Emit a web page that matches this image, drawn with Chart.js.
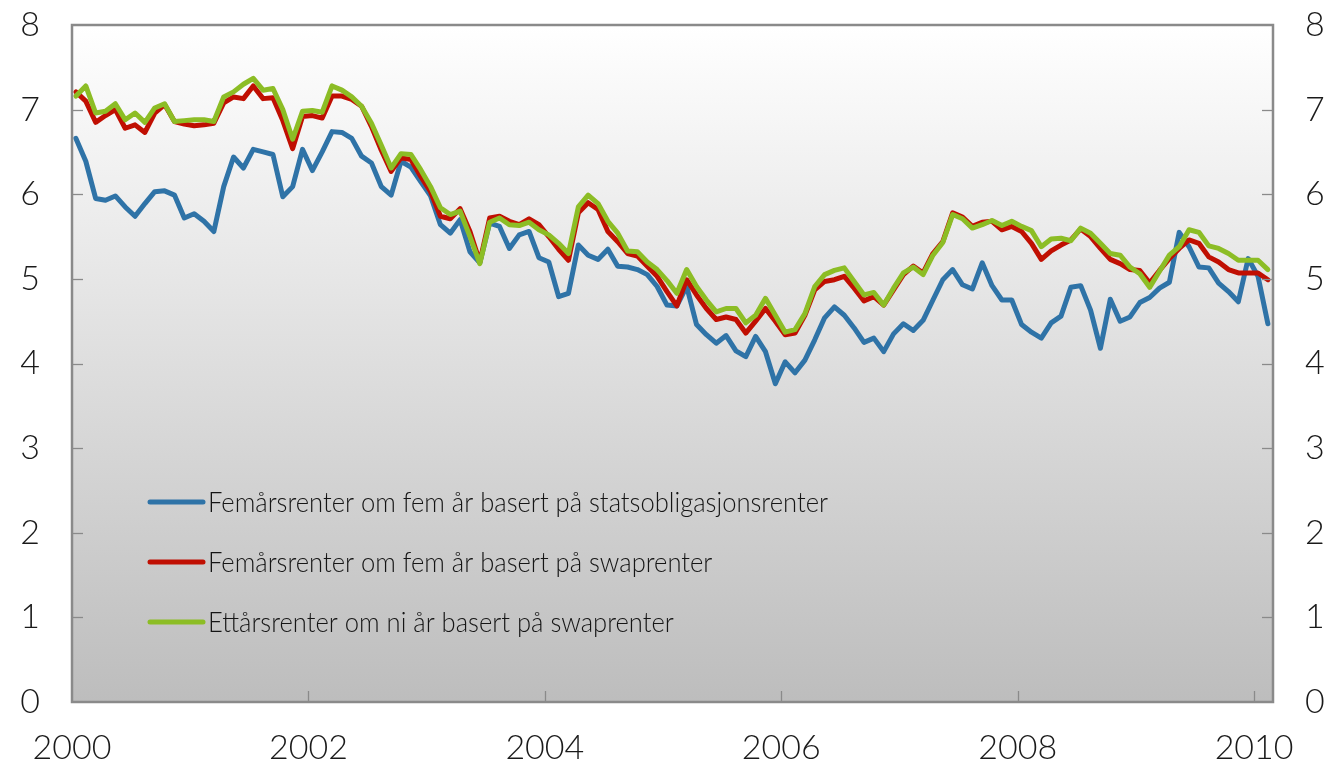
<!DOCTYPE html>
<html><head><meta charset="utf-8">
<script src="https://cdn.jsdelivr.net/npm/chart.js@4.4.1/dist/chart.umd.min.js"></script>
<style>html,body{margin:0;padding:0;background:#fff;}#wrap{width:1337px;height:772px;position:relative}</style>
</head><body><div id="wrap"><canvas id="c" width="1337" height="772"></canvas></div>
<script>
const yearTicks = [2000, 2002, 2004, 2006, 2008, 2010];
const yTicks = [0, 1, 2, 3, 4, 5, 6, 7, 8];
const seriesNames = [
  "Femårsrenter om fem år basert på statsobligasjonsrenter",
  "Femårsrenter om fem år basert på swaprenter",
  "Ettårsrenter om ni år basert på swaprenter"
];
// Monthly observations, Jan 2000 - Feb 2010
const blue = [
  6.66, 6.39, 5.95, 5.93, 5.98, 5.85, 5.74, 5.89, 6.03, 6.04,
  5.99, 5.72, 5.77, 5.68, 5.56, 6.09, 6.44, 6.31, 6.53, 6.50,
  6.47, 5.97, 6.09, 6.53, 6.28, 6.50, 6.74, 6.73, 6.66, 6.45,
  6.37, 6.09, 5.99, 6.39, 6.32, 6.15, 5.98, 5.64, 5.54, 5.70,
  5.32, 5.19, 5.66, 5.62, 5.36, 5.52, 5.56, 5.25, 5.20, 4.79,
  4.83, 5.40, 5.28, 5.23, 5.35, 5.15, 5.14, 5.11, 5.05, 4.91,
  4.69, 4.68, 4.91, 4.46, 4.34, 4.24, 4.33, 4.15, 4.08, 4.32,
  4.14, 3.76, 4.02, 3.89, 4.04, 4.28, 4.54, 4.67, 4.57, 4.42,
  4.25, 4.30, 4.14, 4.35, 4.47, 4.39, 4.51, 4.75, 4.99, 5.11,
  4.93, 4.88, 5.19, 4.92, 4.75, 4.75, 4.46, 4.37, 4.30, 4.48,
  4.56, 4.90, 4.92, 4.63, 4.18, 4.76, 4.50, 4.55, 4.72, 4.78,
  4.89, 4.96, 5.55, 5.38, 5.14, 5.13, 4.95, 4.85, 4.73, 5.24,
  5.03, 4.47
];
const red = [
  7.21, 7.10, 6.85, 6.93, 7.00, 6.78, 6.82, 6.73, 6.96, 7.06,
  6.86, 6.83, 6.81, 6.82, 6.84, 7.08, 7.15, 7.13, 7.28, 7.13,
  7.14, 6.87, 6.54, 6.92, 6.93, 6.90, 7.16, 7.16, 7.12, 7.04,
  6.80, 6.52, 6.27, 6.43, 6.41, 6.21, 6.03, 5.74, 5.71, 5.83,
  5.56, 5.20, 5.72, 5.74, 5.68, 5.64, 5.71, 5.64, 5.50, 5.35,
  5.22, 5.78, 5.90, 5.82, 5.56, 5.44, 5.30, 5.27, 5.15, 5.03,
  4.85, 4.68, 4.99, 4.81, 4.65, 4.52, 4.55, 4.52, 4.36, 4.50,
  4.65, 4.50, 4.34, 4.36, 4.57, 4.87, 4.97, 4.99, 5.03, 4.89,
  4.74, 4.79, 4.69, 4.87, 5.05, 5.15, 5.07, 5.30, 5.44, 5.78,
  5.73, 5.62, 5.67, 5.68, 5.58, 5.62, 5.56, 5.42, 5.23, 5.33,
  5.40, 5.46, 5.59, 5.50, 5.36, 5.23, 5.18, 5.11, 5.10, 4.95,
  5.10, 5.24, 5.36, 5.46, 5.42, 5.26, 5.20, 5.11, 5.07, 5.07,
  5.07, 4.99
];
const green = [
  7.16, 7.28, 6.96, 6.98, 7.07, 6.88, 6.96, 6.85, 7.02, 7.07,
  6.86, 6.87, 6.88, 6.88, 6.86, 7.15, 7.21, 7.30, 7.37, 7.23,
  7.25, 7.00, 6.65, 6.98, 6.99, 6.97, 7.28, 7.23, 7.15, 7.04,
  6.84, 6.58, 6.31, 6.48, 6.47, 6.29, 6.09, 5.84, 5.76, 5.80,
  5.50, 5.18, 5.67, 5.72, 5.64, 5.63, 5.67, 5.58, 5.52, 5.42,
  5.30, 5.85, 5.99, 5.89, 5.68, 5.54, 5.33, 5.32, 5.20, 5.11,
  4.98, 4.83, 5.11, 4.91, 4.75, 4.61, 4.65, 4.65, 4.48, 4.57,
  4.77, 4.57, 4.37, 4.40, 4.59, 4.91, 5.05, 5.10, 5.13, 4.97,
  4.81, 4.84, 4.69, 4.89, 5.07, 5.14, 5.05, 5.28, 5.43, 5.76,
  5.71, 5.60, 5.64, 5.69, 5.63, 5.68, 5.62, 5.57, 5.38, 5.47,
  5.48, 5.45, 5.60, 5.54, 5.42, 5.30, 5.28, 5.14, 5.06, 4.90,
  5.09, 5.28, 5.38, 5.58, 5.55, 5.39, 5.36, 5.30, 5.22, 5.22,
  5.22, 5.11
];
const colors = ["#2f73a7", "#c00f02", "#8cbd25"];

// time position of each monthly observation (fractional year)
const times = blue.map((_, i) => 2000 + (i + 0.4) / 12);
const toPts = arr => arr.map((v, i) => ({ x: times[i], y: v }));

const TICK_FONT = { family: "Lato, 'Open Sans', sans-serif", size: 34, weight: 300 };

const bgPlugin = {
  id: 'bg',
  beforeDatasetsDraw(chart) {
    const { ctx, chartArea: a } = chart;
    const g = ctx.createLinearGradient(0, a.top, 0, a.bottom);
    g.addColorStop(0, '#ffffff');
    g.addColorStop(1, '#bdbdbd');
    ctx.save();
    ctx.fillStyle = g;
    ctx.fillRect(a.left, a.top, a.right - a.left, a.bottom - a.top);
    ctx.restore();
  },
  afterDatasetsDraw(chart) {
    const { ctx, chartArea: a, scales } = chart;
    ctx.save();
    ctx.strokeStyle = '#8a8a8a';
    ctx.lineWidth = 1.3;
    yTicks.forEach(v => {
      if (v === 0 || v === 8) return;
      const y = Math.round(scales.y.getPixelForValue(v)) + 0.5;
      ctx.beginPath(); ctx.moveTo(a.left, y); ctx.lineTo(a.left + 11, y); ctx.stroke();
      ctx.beginPath(); ctx.moveTo(a.right, y); ctx.lineTo(a.right - 11, y); ctx.stroke();
    });
    yearTicks.forEach(t => {
      if (t === 2000) return;
      const x = Math.round(scales.x.getPixelForValue(t)) + 0.5;
      ctx.beginPath(); ctx.moveTo(x, a.bottom); ctx.lineTo(x, a.bottom - 11); ctx.stroke();
    });
    ctx.lineWidth = 2.5;
    ctx.strokeStyle = '#8a8a8a';
    ctx.strokeRect(a.left, a.top, a.right - a.left, a.bottom - a.top);

    // legend inside plot
    const rows = [502, 562, 622];
    ctx.font = "300 27px Lato, 'Liberation Sans', sans-serif";
    ctx.textBaseline = 'middle';
    ctx.textAlign = 'left';
    const w0 = ctx.measureText(seriesNames[0]).width;
    const sx = 620 / w0;
    rows.forEach((y, i) => {
      ctx.strokeStyle = colors[i];
      ctx.lineWidth = 5;
      ctx.lineCap = 'round';
      ctx.beginPath(); ctx.moveTo(150, y); ctx.lineTo(203, y); ctx.stroke();
      ctx.save();
      ctx.translate(208, y + 1);
      ctx.scale(sx, 1);
      ctx.fillStyle = '#151515';
      ctx.fillText(seriesNames[i], 0, 0);
      ctx.restore();
    });
    ctx.restore();
  }
};

const ds = (label, arr, color, order) => ({
  label, data: toPts(arr), borderColor: color, backgroundColor: color,
  borderWidth: 5, pointRadius: 0, tension: 0, fill: false,
  borderJoinStyle: 'round', borderCapStyle: 'round', order
});

const noPadV = s => { s.paddingTop = 0; s.paddingBottom = 0; };

new Chart(document.getElementById('c'), {
  type: 'line',
  data: {
    datasets: [
      ds(seriesNames[0], blue, colors[0], 3),
      ds(seriesNames[1], red, colors[1], 2),
      ds(seriesNames[2], green, colors[2], 1)
    ]
  },
  options: {
    responsive: false, animation: false, devicePixelRatio: 1,
    layout: { padding: { top: 25, left: 0, right: 0, bottom: 0 } },
    plugins: { legend: { display: false }, tooltip: { enabled: false } },
    scales: {
      x: {
        type: 'linear', min: 2000, max: 2010.16,
        afterBuildTicks: s => { s.ticks = yearTicks.map(v => ({ value: v })); },
        afterFit: s => { s.height = 70; s.paddingLeft = 0; s.paddingRight = 0; },
        grid: { display: false, drawTicks: false },
        border: { display: false },
        ticks: { font: TICK_FONT, color: '#1a1a1a', padding: 26, maxRotation: 0, autoSkip: false,
                 callback: v => String(v) }
      },
      y: {
        position: 'left', min: 0, max: 8,
        afterBuildTicks: s => { s.ticks = yTicks.map(v => ({ value: v })); },
        afterFit: s => { s.width = 72; noPadV(s); },
        grid: { display: false, drawTicks: false },
        border: { display: false },
        ticks: { font: TICK_FONT, color: '#1a1a1a', padding: 32 }
      },
      y2: {
        position: 'right', min: 0, max: 8,
        afterBuildTicks: s => { s.ticks = yTicks.map(v => ({ value: v })); },
        afterFit: s => { s.width = 64; noPadV(s); },
        grid: { display: false, drawTicks: false },
        border: { display: false },
        ticks: { font: TICK_FONT, color: '#1a1a1a', padding: 32 }
      }
    }
  },
  plugins: [bgPlugin]
});
</script></body></html>
